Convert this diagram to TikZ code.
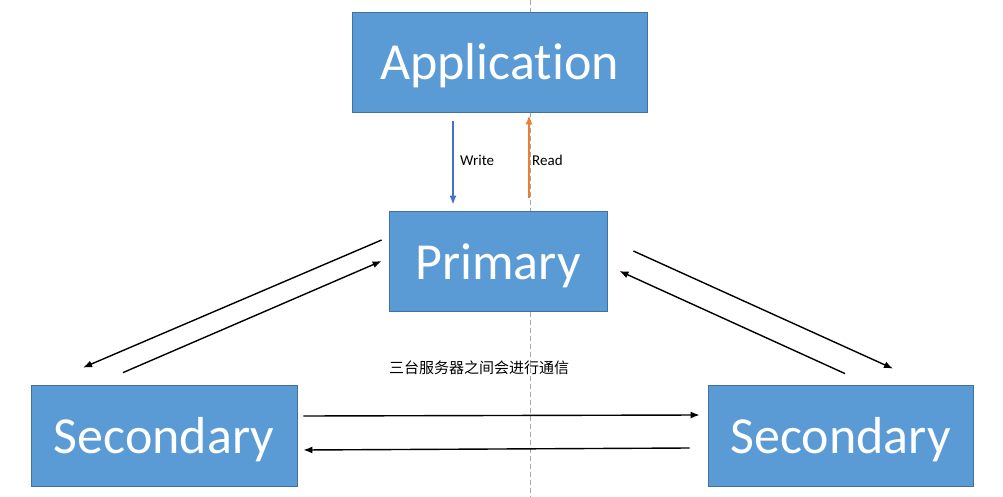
\documentclass[tikz,border=0pt]{standalone}
\usepackage{fontspec}
\setmainfont[Ligatures=NoCommon]{Carlito}
\newfontfamily\cjk{Noto Sans CJK SC}
\usepackage{tikz}
\usetikzlibrary{arrows.meta}
\definecolor{boxblue}{RGB}{91,155,213}
\definecolor{boxline}{RGB}{65,113,156}
\definecolor{wblue}{RGB}{68,114,196}
\definecolor{rorange}{RGB}{237,125,49}

\begin{document}
\begin{tikzpicture}[x=1pt,y=-1pt,
  server/.style={draw=boxline, line width=0.8pt, fill=boxblue, text=white, inner sep=0pt,
    text height=40pt, text depth=4pt, font=\fontsize{52}{60}\selectfont},
  link/.style={line width=1.4pt, ->, >={Latex[length=9pt,width=7pt]}},
  small/.style={font=\fontsize{15}{18}\selectfont, inner sep=0pt}]
\useasboundingbox (0,0) rectangle (1003,497);
\draw [gray!70, line width=0.8pt, dash pattern=on 5pt off 3pt] (530,0)--(530,497);

\node [server, minimum width=295pt, minimum height=100pt] (app) at (499.5,62) {Application};
\node [server, minimum width=218pt, minimum height=100pt] (prim) at (498,261) {Primary};
\node [server, minimum width=266pt, minimum height=101pt] (secl) at (164,435.5) {Secondary};
\node [server, minimum width=265pt, minimum height=101pt] (secr) at (840.5,435.5) {Secondary};

\draw [link, wblue] ([xshift=-46.5pt,yshift=-9pt]app.south)--([xshift=-45pt,yshift=6pt]prim.north);
\draw [link, rorange] ([xshift=31pt,yshift=13pt]prim.north)--([xshift=29.5pt,yshift=-3pt]app.south);
\node [small, anchor=west] (wlab) at (460,160) {Write};
\node [small, anchor=west] (rlab) at (532,160) {Read};

\draw [link] ([xshift=-7pt,yshift=21pt]prim.west)--([xshift=-81pt,yshift=17pt]secl.north);
\draw [link] ([xshift=-41pt,yshift=12pt]secl.north)--([xshift=-7pt]prim.west);
\draw [link] ([xshift=26pt,yshift=10pt]prim.east)--([xshift=52.5pt,yshift=16pt]secr.north);
\draw [link] ([xshift=4.5pt,yshift=11pt]secr.north)--([xshift=12pt,yshift=-10pt]prim.east);
\draw [link] ([xshift=6pt,yshift=19.5pt]secl.east)--([xshift=-8pt,yshift=20.5pt]secr.west);
\draw [link] ([xshift=-18pt,yshift=-12.5pt]secr.west)--([xshift=6pt,yshift=-14.5pt]secl.east);

\node [small] (note) at (479,368) {\cjk 三台服务器之间会进行通信};

\end{tikzpicture}
\end{document}
